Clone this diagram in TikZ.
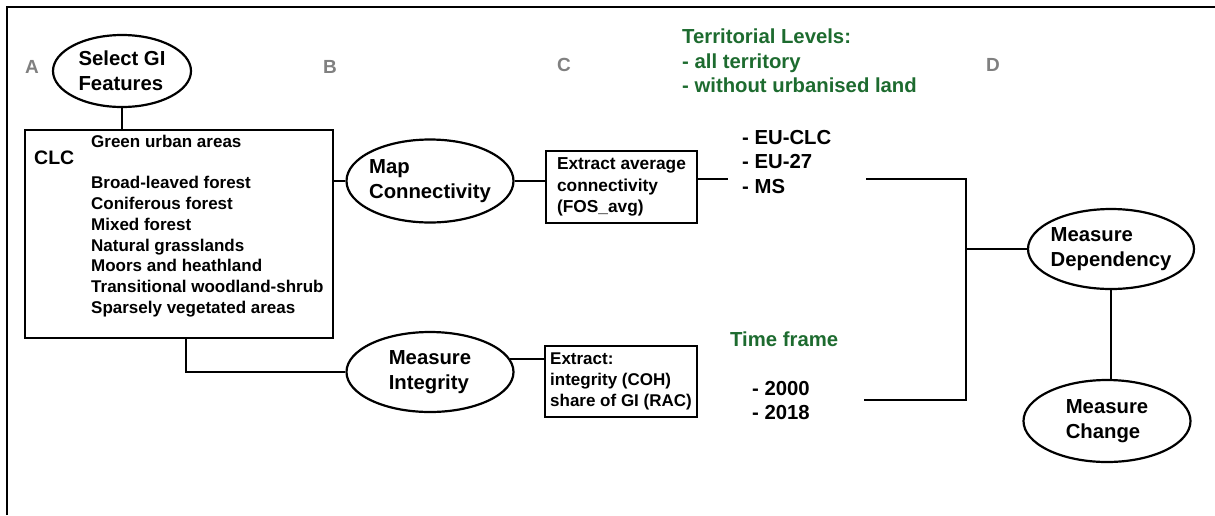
\documentclass[tikz,border=0pt]{standalone}
\usepackage{fontspec}
\setmainfont{Liberation Sans}
\usetikzlibrary{shapes.geometric,calc}

\definecolor{stepgray}{HTML}{808080}
\definecolor{infogreen}{HTML}{1D6B2F}

\newcommand{\fsz}[2]{\fontsize{#1}{#2}\selectfont}

\begin{document}
\begin{tikzpicture}[x=1pt,y=-1pt,
  every node/.style={font=\bfseries, inner sep=0pt},
  conn/.style={line width=2.2pt, black},
  oval/.style={ellipse, draw, line width=2.2pt, inner xsep=-14pt, inner ysep=-8pt,
               align=left, font=\bfseries\fsz{20.3}{25}},
  rbox/.style={draw, line width=2.2pt, align=left},
  steplabel/.style={text=stepgray, font=\bfseries\fsz{19}{22}},
  greentext/.style={text=infogreen, align=left, anchor=west, font=\bfseries\fsz{20.3}{24.5}},
  plaintext/.style={align=left, anchor=west, font=\bfseries\fsz{20.3}{24.5}}
]
\useasboundingbox (0,0) rectangle (1215,515);

% frame
\draw[line width=2.5pt] (7,515) -- (7,7) -- (1215,7);

% step letters
\node[steplabel] (la) at (32,67) {A};
\node[steplabel] (lb) at (330,67) {B};
\node[steplabel] (lc) at (564,65) {C};
\node[steplabel] (ld) at (993,65) {D};

% A: feature selection
\node[oval, minimum width=138, minimum height=72] (sel) at (122,71) {Select GI\\Features};
\node[rbox, minimum width=308, minimum height=208] (clc) at (179,234) {};
\node[anchor=west, font=\bfseries\fsz{19.5}{22}] (clclbl) at (34,158) {CLC};
\node[anchor=west, align=left, font=\bfseries\fsz{17}{20.75}] (clclist) at (91,226)
  {Green urban areas\\[20.75pt]Broad-leaved forest\\Coniferous forest\\Mixed forest\\
   Natural grasslands\\Moors and heathland\\Transitional woodland-shrub\\Sparsely vegetated areas};

% B: connectivity and integrity
\node[oval, minimum width=167, minimum height=83] (map) at (430,181) {Map\\Connectivity};
\node[oval, minimum width=167, minimum height=80] (integ) at (430,372) {Measure\\Integrity};

% C: extraction
\node[rbox, minimum width=151, minimum height=72, font=\bfseries\fsz{17.3}{21.5}] (ext1) at (621.5,187)
  {Extract average\\connectivity\\(FOS\_avg)};
\node[rbox, minimum width=152, minimum height=71, font=\bfseries\fsz{17}{21}] (ext2) at (621,381.5)
  {Extract:\\integrity (COH)\\share of GI (RAC)};

% levels and time frame
\node[greentext] (terr) at (682,61) {Territorial Levels:\\- all territory\\- without urbanised land};
\node[plaintext] (levels) at (742,162) {- EU-CLC\\- EU-27\\- MS};
\node[greentext] (time) at (730,339) {Time frame};
\node[plaintext] (years) at (752,400.5) {- 2000\\- 2018};

% D: dependency and change
\node[oval, minimum width=166, minimum height=80] (dep) at (1111,249) {Measure\\Dependency};
\node[oval, minimum width=167, minimum height=82] (chg) at (1107,421) {Measure\\Change};

% connectors
\coordinate (ext1end) at (728,179);
\coordinate (brtop) at (866,179);
\coordinate (brc1) at (966,179);
\coordinate (brc2) at (966,400);
\coordinate (brbot) at (864,400);
\coordinate (clcdrop) at ($(clc.south west)+(162,0)$);

\draw[conn] (sel.south) -- (sel.south |- clc.north);
\draw[conn] (map.west) -- (map.west -| clc.east);
\draw[conn] (map.east) -- (map.east -| ext1.west);
\draw[conn] (ext1.east |- ext1end) -- (ext1end);
\draw[conn] (clcdrop) |- (integ.west);
\draw[conn] (integ.9) -- (integ.9 -| ext2.west);
\draw[conn] (brtop) -- (brc1) -- (brc2) -- (brbot);
\draw[conn] (dep.west) -- (dep.west -| brc1);
\draw[conn] (dep.south) -- (dep.south |- chg.north);
\end{tikzpicture}
\end{document}
